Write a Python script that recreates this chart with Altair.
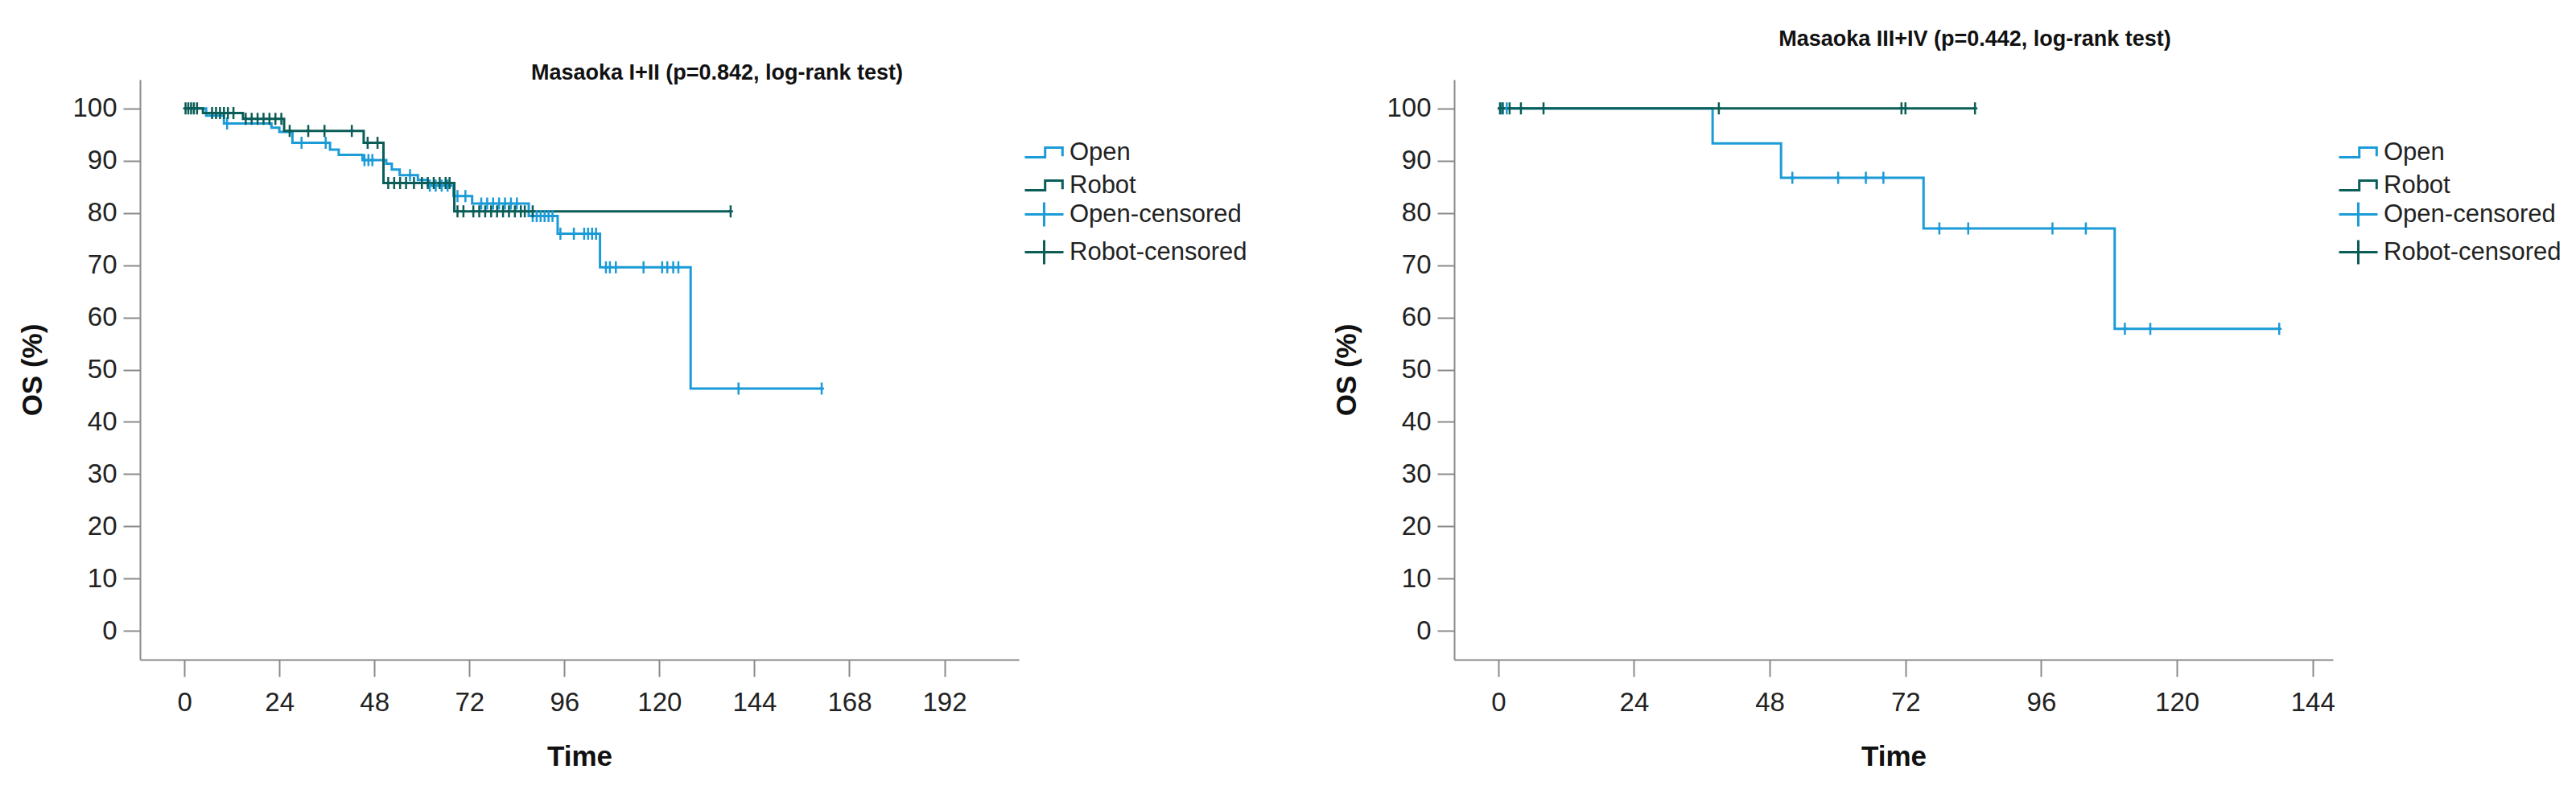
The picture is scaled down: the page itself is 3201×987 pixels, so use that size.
import altair as alt
import pandas as pd

OPEN_COLOR = "#1b9bd7"
ROBOT_COLOR = "#0b5d57"

LINE_SERIES = ["Open", "Robot"]
CENS_SERIES = ["Open-censored", "Robot-censored"]

# ---- Masaoka I+II (left panel) ----
L_OPEN_T = [0, 5.5, 10, 22, 24, 27.3, 36.8, 39, 45, 51, 52.4, 54.4, 59, 61.5, 68, 72.7, 87, 94.3, 105, 127.9, 161]
L_OPEN_S = [100, 98.6, 97.1, 96.3, 95.5, 93.4, 92.1, 91.1, 90.1, 89.4, 88.3, 87.2, 86.3, 85.2, 83.2, 81.8, 79.4, 76.0, 69.6, 46.4, 46.4]
L_OPEN_CENS = [10.8, 29.6, 35.7, 45.5, 46.5, 47.5, 57, 62, 63.5, 65, 66.5, 69, 71, 75, 76.5, 78, 79.5, 81, 82.5,
               84, 88, 89, 90, 91, 92, 93, 95, 98.4, 101, 102, 103, 104, 106.5, 107.5, 109, 116, 120.7, 122,
               123.5, 124.8, 140, 161]
L_ROBOT_T = [0, 4.7, 14.8, 25.2, 45.3, 50.3, 68.2, 138]
L_ROBOT_S = [100, 99.1, 98.0, 95.7, 93.4, 85.7, 80.3, 80.3]
L_ROBOT_CENS = [0.3, 1, 1.7, 2.4, 3.2, 7, 8, 9, 10, 11, 12.4, 15.5, 17, 18.5, 20, 21.5, 23, 24.5, 26.6, 31.3,
                35.4, 42.3, 46.3, 48.8, 51.5, 53, 54.5, 56, 58, 60, 61.5, 63, 64.5, 66, 67, 69, 70.5, 73, 74.5,
                76, 77.5, 79, 80.5, 82, 83.5, 85, 86, 88, 138]
L_XTICKS = [0, 24, 48, 72, 96, 120, 144, 168, 192]
L_XDOMAIN = [-11.2, 210.8]

# ---- Masaoka III+IV (right panel) ----
R_OPEN_T = [0, 37.9, 50, 75.2, 109, 138.1]
R_OPEN_S = [100, 93.3, 86.7, 77.0, 57.8, 57.8]
R_OPEN_CENS = [0.5, 1.5, 52, 60.1, 65, 68.1, 78, 83.1, 98, 103.9, 110.8, 115.3, 138.1]
R_ROBOT_T = [0, 84.3]
R_ROBOT_S = [100, 100]
R_ROBOT_CENS = [0.3, 0.8, 2, 4, 8, 39, 71.3, 72, 84.3]
R_XTICKS = [0, 24, 48, 72, 96, 120, 144]
R_XDOMAIN = [-7.8, 147.6]

Y_TICKS = [0, 10, 20, 30, 40, 50, 60, 70, 80, 90, 100]
Y_DOMAIN = [-5.5, 105.5]

STEP_PATH = "M-1,0.25H0.05V-0.25H0.95V0.2"
PLUS_LEGEND = "M-1,0H1M0,-0.62V0.62"
PLUS_MARK = "M-0.4,0H0.4M0,-1V1"

FONT = "Liberation Sans"


def step_value(ts, ss, t):
    v = ss[0]
    for ti, si in zip(ts, ss):
        if ti <= t:
            v = si
    return v


def legend(y, symbol):
    return alt.Legend(title=None, orient="none", legendX=1098, legendY=y,
                      symbolType=symbol, symbolSize=2304, symbolStrokeWidth=3,
                      labelFontSize=31, labelFont=FONT, labelColor="#222", labelLimit=500,
                      labelOffset=6, rowPadding=-10)


def panel(title, title_dx, title_offset, ot, os_, oc, rt, rs, rc, xdomain, xticks):
    line_rows = [{"t": t, "s": s, "series": "Open"} for t, s in zip(ot, os_)]
    line_rows += [{"t": t, "s": s, "series": "Robot"} for t, s in zip(rt, rs)]
    cens_rows = [{"t": t, "s": step_value(ot, os_, t), "cseries": "Open-censored"} for t in oc]
    cens_rows += [{"t": t, "s": step_value(rt, rs, t), "cseries": "Robot-censored"} for t in rc]

    x = alt.X("t:Q", scale=alt.Scale(domain=xdomain, nice=False, zero=False),
              axis=alt.Axis(values=xticks, title="Time"))
    y = alt.Y("s:Q", scale=alt.Scale(domain=Y_DOMAIN, nice=False, zero=False),
              axis=alt.Axis(values=Y_TICKS, title="OS (%)"))

    lines = alt.Chart(pd.DataFrame(line_rows)).mark_line(
        interpolate="step-after", strokeWidth=3
    ).encode(
        x=x, y=y,
        color=alt.Color("series:N",
                        scale=alt.Scale(domain=LINE_SERIES, range=[OPEN_COLOR, ROBOT_COLOR]),
                        legend=legend(65, STEP_PATH)),
    )
    marks = alt.Chart(pd.DataFrame(cens_rows)).mark_point(
        shape=PLUS_MARK, size=225, filled=False, strokeWidth=2.5, opacity=1
    ).encode(
        x=x, y=y,
        stroke=alt.Stroke("cseries:N",
                          scale=alt.Scale(domain=CENS_SERIES, range=[OPEN_COLOR, ROBOT_COLOR]),
                          legend=legend(142, PLUS_LEGEND)),
    )
    return alt.layer(lines, marks).properties(
        width=1092, height=721,
        title=alt.TitleParams(title, fontSize=27, font=FONT, fontWeight="bold", color="#111",
                              anchor="middle", frame="group", dx=title_dx, offset=title_offset),
    )


left = panel("Masaoka I+II (p=0.842, log-rank test)", 171, -6,
             L_OPEN_T, L_OPEN_S, L_OPEN_CENS, L_ROBOT_T, L_ROBOT_S, L_ROBOT_CENS, L_XDOMAIN, L_XTICKS)
right = panel("Masaoka III+IV (p=0.442, log-rank test)", 101, 36,
              R_OPEN_T, R_OPEN_S, R_OPEN_CENS, R_ROBOT_T, R_ROBOT_S, R_ROBOT_CENS, R_XDOMAIN, R_XTICKS)

chart = alt.hconcat(left, right, spacing=541, bounds="flush").resolve_legend(
    color="independent", stroke="independent"
).properties(
    padding={"left": 15, "top": 27, "right": 5, "bottom": 5}
).configure_view(stroke=None).configure_axis(
    grid=False, domainColor="#8a8a8a", domainWidth=2, tickColor="#8a8a8a", tickWidth=2, tickSize=21,
    labelFont=FONT, labelFontSize=33, labelColor="#222", titleFont=FONT, titleFontSize=35,
    titleFontWeight="bold", titleColor="#111"
).configure_axisX(labelPadding=16, titlePadding=33).configure_axisY(labelPadding=8, titlePadding=31)

chart.save("out.html", embed_options={"renderer": "svg", "actions": False})
